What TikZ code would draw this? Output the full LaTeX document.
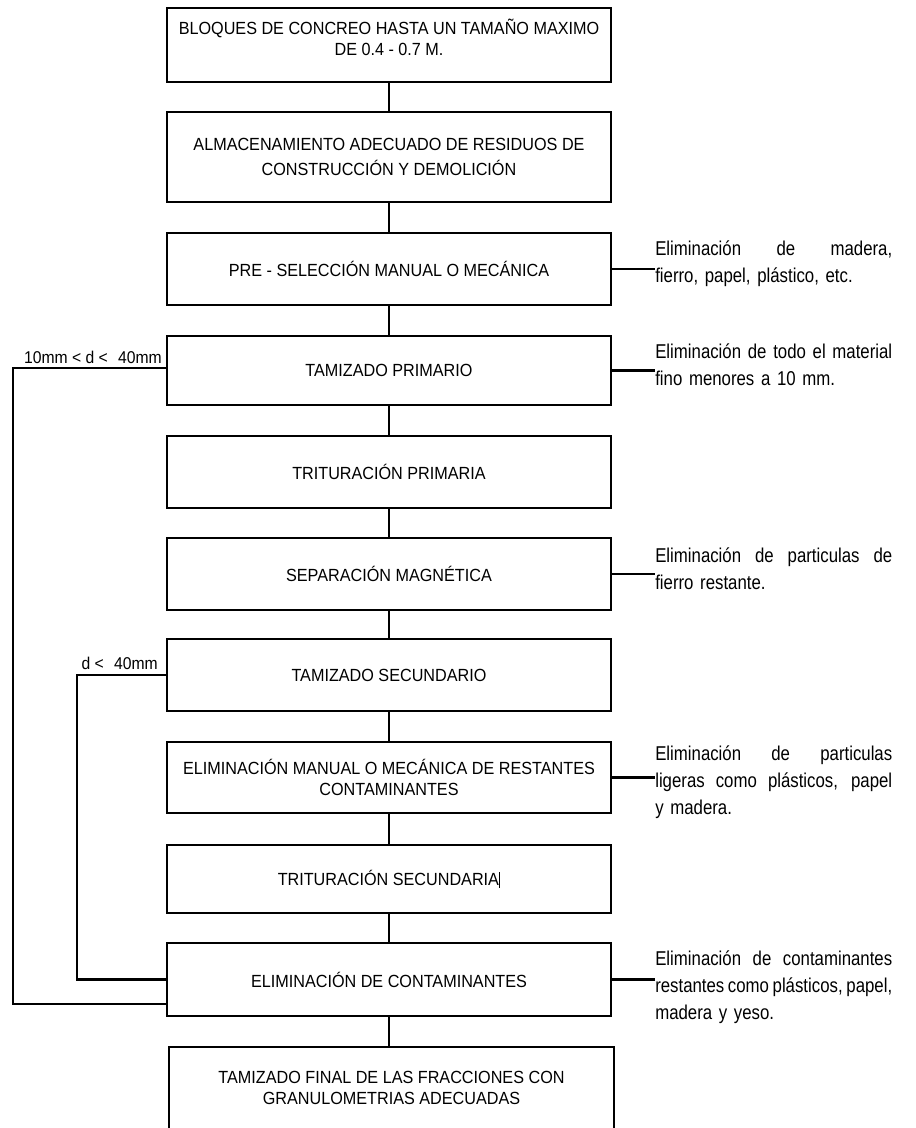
\documentclass[tikz,border=0pt]{standalone}
\usepackage{fontspec}
\setmainfont{Liberation Sans}
\newfontfamily\sidefont[FakeStretch=0.84,WordSpace=0.6]{Liberation Sans}
\newfontfamily\boxfont[FakeStretch=0.92]{Liberation Sans}
\usetikzlibrary{calc}
\newcommand{\jline}[1]{\makebox[177.75pt][s]{\spaceskip=0.15em plus 1fil\relax #1}}
\begin{document}
\begin{tikzpicture}[x=0.75pt,y=-0.75pt,
  box/.style={draw=black,line width=1.8pt,minimum width=333pt,inner sep=0pt,align=center,
    font=\boxfont\fontsize{13.2pt}{15.75pt}\selectfont},
  frame/.style={draw=black,line width=1.8pt,inner sep=0pt},
  boxtext/.style={inner sep=0pt,align=center,font=\boxfont\fontsize{13.2pt}{15.75pt}\selectfont},
  side/.style={anchor=north west,inner sep=0pt,text width=177.75pt,align=left,
    font=\sidefont\fontsize{15pt}{20.25pt}\selectfont},
  lbl/.style={inner sep=0pt,anchor=east,font=\boxfont\fontsize{12.8pt}{14pt}\selectfont},
  conn/.style={line width=1.6pt,draw=black}]
\useasboundingbox (0,0) rectangle (916,1128);
\fill[white] (0,0) rectangle (916,1128);
\clip (0,0) rectangle (916,1128);

% main boxes
\node[box,minimum height=55.5pt,text depth=11pt] (b1) at (389,45) {BLOQUES DE CONCREO HASTA UN TAMAÑO MAXIMO\\DE 0.4 - 0.7 M.};
\node[box,minimum height=67.5pt,font=\boxfont\fontsize{13.2pt}{19pt}\selectfont] (b2) at (389,157) {ALMACENAMIENTO ADECUADO DE RESIDUOS DE\\CONSTRUCCIÓN Y DEMOLICIÓN};
\node[box,minimum height=54pt] (b3) at (389,269) {PRE - SELECCIÓN MANUAL O MECÁNICA};
\node[box,minimum height=51.75pt] (b4) at (389,370.5) {TAMIZADO PRIMARIO};
\node[box,minimum height=54pt] (b5) at (389,472) {TRITURACIÓN PRIMARIA};
\node[box,minimum height=54pt] (b6) at (389,574) {SEPARACIÓN MAGNÉTICA};
\node[box,minimum height=54pt] (b7) at (389,675) {TAMIZADO SECUNDARIO};
\node[box,minimum height=53.25pt] (b8) at (389,777.5) {ELIMINACIÓN MANUAL O MECÁNICA DE RESTANTES\\CONTAMINANTES};
\node[box,minimum height=51pt] (b9) at (389,879) {TRITURACIÓN SECUNDARIA\rule[-2pt]{0.9pt}{12pt}};
\node[box,minimum height=54.75pt] (b10) at (389,979.5) {ELIMINACIÓN DE CONTAMINANTES};
\node[frame,minimum width=333.75pt,minimum height=77.25pt] (b11) at (391.5,1098.5) {};
\node[boxtext] (t11) at (391.5,1087.5) {TAMIZADO FINAL DE LAS FRACCIONES CON\\GRANULOMETRIAS ADECUADAS};

% vertical connectors
\draw[conn] (b1.south) -- (b2.north);
\draw[conn] (b2.south) -- (b3.north);
\draw[conn] (b3.south) -- (b4.north);
\draw[conn] (b4.south) -- (b5.north);
\draw[conn] (b5.south) -- (b6.north);
\draw[conn] (b6.south) -- (b7.north);
\draw[conn] (b7.south) -- (b8.north);
\draw[conn] (b8.south) -- (b9.north);
\draw[conn] (b9.south) -- (b10.north);
\draw[conn] (b10.south) -- (b10.south |- b11.north);

% side notes
\node[side] (s3) at (655,241) {\jline{Eliminación de madera,}\\fierro, papel, plástico, etc.};
\node[side] (s4) at (655,344) {\jline{Eliminación de todo el material}\\fino menores a 10 mm.};
\node[side] (s6) at (655,547) {\jline{Eliminación de particulas de}\\fierro restante.};
\node[side] (s8) at (655,745) {\jline{Eliminación de particulas}\\\jline{ligeras como plásticos, papel}\\y madera.};
\node[side] (s10) at (655,950) {\jline{Eliminación de contaminantes}\\\jline{restantes como plásticos, papel,}\\madera y yeso.};
\draw[conn] (b3.east) -- (b3.east -| s3.west);
\draw[conn] (b4.east) -- (b4.east -| s4.west);
\draw[conn] (b6.east) -- (b6.east -| s6.west);
\draw[conn] (b8.east) -- (b8.east -| s8.west);
\draw[conn] (b10.east) -- (b10.east -| s10.west);

% return loops
\coordinate (outerTop) at (13,368);
\coordinate (outerBot) at (13,1004);
\coordinate (innerX) at (77,0);
\draw[conn,line width=1.8pt] (b4.west |- outerTop) -- (outerTop) -- (outerBot) -- (outerBot -| b10.west);
\draw[conn,line width=1.8pt] (b7.west) -- (b7.west -| innerX) |- (b10.west);
\node[lbl] (l1) at (162,357) {10mm < d <\hspace{0.6em}40mm};
\node[lbl] (l2) at (158,663) {d <\hspace{0.6em}40mm};
\end{tikzpicture}
\end{document}
